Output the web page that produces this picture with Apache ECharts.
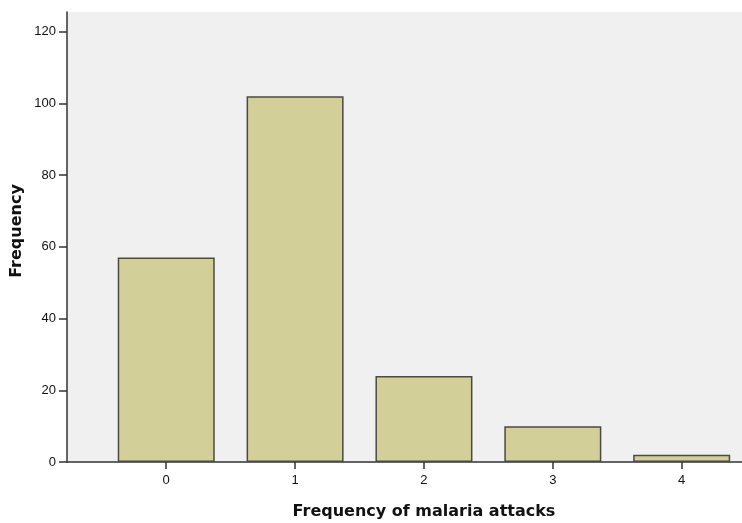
<!DOCTYPE html>
<html>
<head>
<meta charset="utf-8">
<script src="https://cdn.jsdelivr.net/npm/echarts@6/dist/echarts.min.js"></script>
<style>html,body{margin:0;padding:0;background:#fff;}#c{width:742px;height:523px;}</style>
</head>
<body>
<div id="c"></div>
<script>
var categories = [0, 1, 2, 3, 4];
var frequencies = [57, 102, 24, 10, 2];
var yTicks = [0, 20, 40, 60, 80, 100, 120];
var xTitle = 'Frequency of malaria attacks';
var yTitle = 'Frequency';

var chart = echarts.init(document.getElementById('c'));
chart.setOption({
  backgroundColor: '#ffffff',
  animation: false,
  grid: { left: 67, right: 0, top: 12, bottom: 61, show: true, backgroundColor: '#f0f0f0', borderWidth: 0 },
  xAxis: {
    type: 'value', min: -0.77, max: 4.468,
    axisLine: { show: true, onZero: false, lineStyle: { color: '#333', width: 1.5 } },
    axisTick: { show: true, length: 7, customValues: categories, lineStyle: { color: '#333', width: 1.5 } },
    axisLabel: { customValues: categories, margin: 12, color: '#111', fontFamily: '"Liberation Sans", Arial, sans-serif', fontSize: 13 },
    splitLine: { show: false }
  },
  yAxis: {
    type: 'value', min: 0, max: 125.5,
    axisLine: { show: true, onZero: false, lineStyle: { color: '#333', width: 1.5 } },
    axisTick: { show: true, length: 8, customValues: yTicks, lineStyle: { color: '#333', width: 1.5 } },
    axisLabel: { customValues: yTicks, margin: 11, color: '#111', fontFamily: '"Liberation Sans", Arial, sans-serif', fontSize: 13 },
    splitLine: { show: false }
  },
  graphic: [{
    type: 'text', x: 424, y: 512,
    style: { text: xTitle, textAlign: 'center', textVerticalAlign: 'middle', font: 'bold 16px "DejaVu Sans"', fill: '#111' }
  }, {
    type: 'text', x: 17, y: 231, rotation: Math.PI / 2,
    style: { text: yTitle, textAlign: 'center', textVerticalAlign: 'middle', font: 'bold 16px "DejaVu Sans"', fill: '#111' }
  }],
  series: [{
    type: 'bar',
    data: categories.map(function (c, i) { return [c, frequencies[i]]; }),
    barWidth: 97,
    itemStyle: { color: '#d3cf98', borderColor: '#4a4a45', borderWidth: 1.5 }
  }]
});
</script>
</body>
</html>
